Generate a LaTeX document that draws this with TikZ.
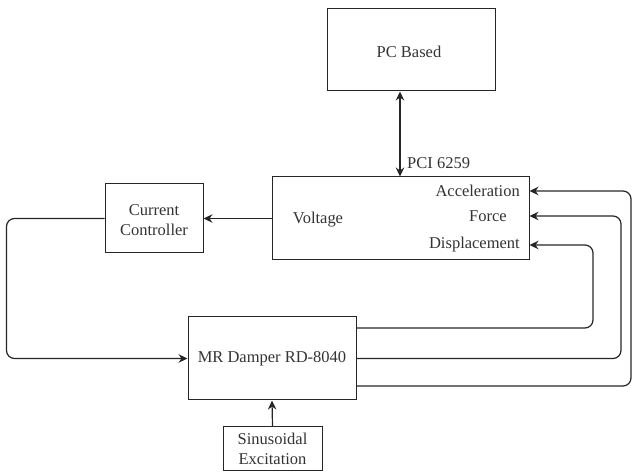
\documentclass[tikz,border=0pt]{standalone}
\usepackage{fontspec}
\setmainfont{Liberation Serif}
\usetikzlibrary{arrows.meta}
\begin{document}
\begin{tikzpicture}[x=1pt,y=-1pt,
  box/.style={draw=black!85,line width=1pt,rectangle,inner sep=0pt},
  lbl/.style={font=\fontsize{16.5}{19.5}\selectfont,text=black!80,align=center,inner sep=0pt},
  conn/.style={draw=black!85,line width=1.2pt,rounded corners=8pt},
  arr/.style={conn,-{Stealth[length=9pt,width=8.5pt]}},
  arr2/.style={conn,{Stealth[length=9pt,width=8.5pt]}-{Stealth[length=9pt,width=8.5pt]}}]
\useasboundingbox (0,0) rectangle (633,473);
% boxes
\node[box,minimum width=168pt,minimum height=82pt] (pc) at (411,50) {};
\node[lbl] (pct) at (409,52) {PC Based};
\node[box,minimum width=257pt,minimum height=83pt] (daq) at (400.5,218.5) {};
\node[box,minimum width=98pt,minimum height=69pt] (cc) at (154,218.5) {};
\node[lbl] (cct) at (154,220) {Current\\Controller};
\node[box,minimum width=168pt,minimum height=83pt] (mr) at (272,358.5) {};
\node[lbl] (mrt) at (272,359) {MR Damper RD-8040};
\node[box,minimum width=99pt,minimum height=44pt] (sin) at (272.5,449) {};
\node[lbl] (sint) at (272.5,449) {Sinusoidal\\Excitation};
% labels inside DAQ box
\node[lbl] (volt) at (318,220) {Voltage};
\node[lbl,anchor=east] (acc) at (520,191) {Acceleration};
\node[lbl] (frc) at (488,216) {Force};
\node[lbl,anchor=east] (disp) at (520,245) {Displacement};
\node[lbl,anchor=west] (pci) at (407,163) {PCI 6259};
% connectors
\coordinate (px) at (400,0);
\draw[arr2] (pc.south -| px) -- (daq.north -| px);
\draw[arr] (daq.west) -- (cc.east);
\draw[arr] (cc.west) -- ++(-98,0) |- (mr.west);
\draw[arr] (sin.north) -- (mr.south);
\draw[arr] (mr.east |- 0,328) -| (593,245) -- (daq.east |- 0,245);
\draw[arr] (mr.east) -| (621,216) -- (daq.east |- 0,216);
\draw[arr] (mr.east |- 0,386) -| (631,191) -- (daq.east |- 0,191);
\end{tikzpicture}
\end{document}
